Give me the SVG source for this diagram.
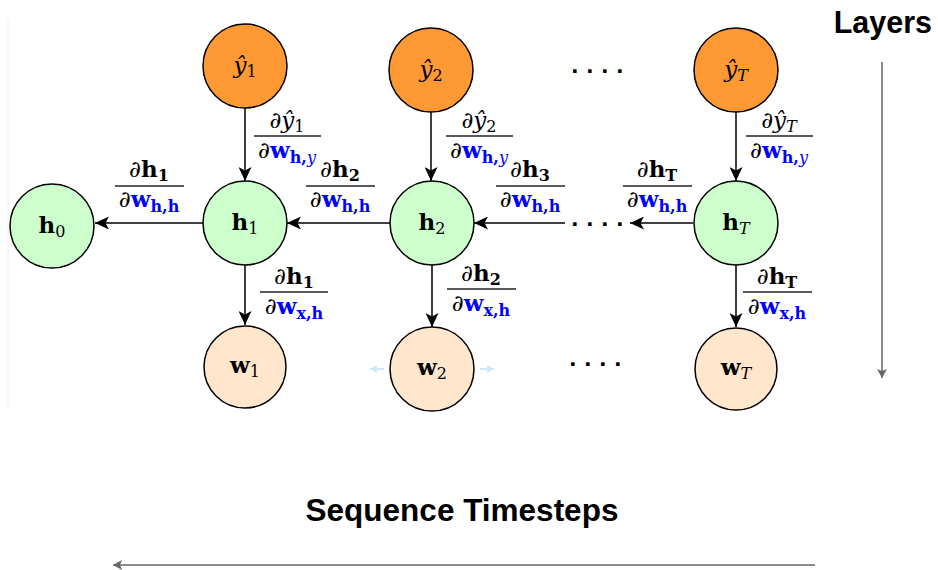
<svg xmlns="http://www.w3.org/2000/svg" width="938" height="570" viewBox="0 0 938 570">
<style>
.n{stroke:#000;stroke-width:1.5}
.o{fill:#FF9933}.g{fill:#CCFFCC}.p{fill:#FFE6CC}
.m{font-family:"DejaVu Serif","Liberation Serif",serif;font-size:23px;fill:#000}
.lab{text-anchor:middle}
.b{font-weight:bold}
.i{font-style:italic}
.s{font-size:16px}
.bl{fill:#0000FF;font-weight:bold}
.e{stroke:#000;stroke-width:1.5;fill:none;marker-end:url(#ah)}
.fl{stroke:#222;stroke-width:1.6}
.gr{stroke:#666;stroke-width:1.5;fill:none;marker-end:url(#gh)}
.t{font-family:"Liberation Sans",Arial,sans-serif;font-weight:bold;fill:#000}
.d{font-family:"DejaVu Sans",sans-serif;font-size:20px;font-weight:bold;fill:#000}
</style>
<defs>
<marker id="ah" markerWidth="15" markerHeight="13" refX="14" refY="6.5" orient="auto" markerUnits="userSpaceOnUse">
<path d="M0,0 L14,6.5 L0,13 L3.5,6.5 z" fill="#000"/>
</marker>
<marker id="gh" markerWidth="10" markerHeight="10" refX="9" refY="5" orient="auto" markerUnits="userSpaceOnUse">
<path d="M0,0 L9,5 L0,10 L2,5 z" fill="#666"/>
</marker>
<marker id="lb" markerWidth="8" markerHeight="8" refX="7" refY="4" orient="auto" markerUnits="userSpaceOnUse">
<path d="M0,0 L7,4 L0,8 z" fill="#cfe6f7"/>
</marker>
</defs>
<line x1="8" y1="20" x2="8" y2="410" stroke="#eeeeee" stroke-width="1"/>
<g id="connectors">
<line class="e" x1="245" y1="108" x2="245" y2="181"/>
<line class="e" x1="431" y1="112" x2="431" y2="181"/>
<line class="e" x1="736" y1="112" x2="736" y2="181"/>
<line class="e" x1="245" y1="265" x2="245" y2="325"/>
<line class="e" x1="432" y1="265" x2="432" y2="327"/>
<line class="e" x1="736" y1="265" x2="736" y2="327"/>
<line class="e" x1="203" y1="223" x2="95" y2="223"/>
<line class="e" x1="390" y1="223" x2="287" y2="223"/>
<line class="e" x1="565" y1="223" x2="474" y2="223"/>
<line class="e" x1="693" y1="223" x2="630" y2="223"/>
</g>
<g id="y1"><circle class="n o" cx="245" cy="66" r="42"/><text class="m lab" x="245" y="73"><tspan class="i">ŷ</tspan><tspan class="s" dy="4">1</tspan></text></g>
<g id="y2"><circle class="n o" cx="431" cy="70" r="42"/><text class="m lab" x="431" y="77"><tspan class="i">ŷ</tspan><tspan class="s" dy="4">2</tspan></text></g>
<g id="yT"><circle class="n o" cx="736" cy="70" r="42"/><text class="m lab" x="736" y="77"><tspan class="i">ŷ</tspan><tspan class="s i" dy="4">T</tspan></text></g>
<g id="h0"><circle class="n g" cx="52" cy="226" r="42"/><text class="m lab" x="52" y="233"><tspan class="b">h</tspan><tspan class="s" dy="4">0</tspan></text></g>
<g id="h1"><circle class="n g" cx="245" cy="223" r="42"/><text class="m lab" x="245" y="230"><tspan class="b">h</tspan><tspan class="s" dy="4">1</tspan></text></g>
<g id="h2"><circle class="n g" cx="432" cy="223" r="42"/><text class="m lab" x="432" y="230"><tspan class="b">h</tspan><tspan class="s" dy="4">2</tspan></text></g>
<g id="hT"><circle class="n g" cx="736" cy="223" r="42"/><text class="m lab" x="736" y="230"><tspan class="b">h</tspan><tspan class="s i" dy="4">T</tspan></text></g>
<g id="w1"><circle class="n p" cx="245" cy="367" r="41"/><text class="m lab" x="245" y="373"><tspan class="b">w</tspan><tspan class="s" dy="4">1</tspan></text></g>
<g id="w2"><circle class="n p" cx="432" cy="369" r="42"/><text class="m lab" x="432" y="375"><tspan class="b">w</tspan><tspan class="s" dy="4">2</tspan></text>
<line x1="384" y1="369" x2="370" y2="369" stroke="#cfe6f7" stroke-width="2" marker-end="url(#lb)"/>
<line x1="480" y1="369" x2="494" y2="369" stroke="#cfe6f7" stroke-width="2" marker-end="url(#lb)"/></g>
<g id="wT"><circle class="n p" cx="736" cy="369" r="41"/><text class="m lab" x="736" y="375"><tspan class="b">w</tspan><tspan class="s i" dy="4">T</tspan></text></g>
<g id="dots">
<text class="d" x="571 586 601 616" y="73">....</text>
<text class="d" x="571 586 601 616" y="226">....</text>
<text class="d" x="569 584 599 614" y="366">....</text>
</g>
<g id="labels">
<text class="m lab" x="287" y="128">∂<tspan class="i">ŷ</tspan><tspan class="s" dy="4">1</tspan></text>
<line class="fl" x1="254" y1="136" x2="321" y2="136"/>
<text class="m lab" x="287" y="158">∂<tspan class="bl">w</tspan><tspan class="s bl" dy="5">h,<tspan class="i" font-weight="normal">y</tspan></tspan></text>

<text class="m lab" x="479" y="128">∂<tspan class="i">ŷ</tspan><tspan class="s" dy="4">2</tspan></text>
<line class="fl" x1="446" y1="136" x2="513" y2="136"/>
<text class="m lab" x="479" y="158">∂<tspan class="bl">w</tspan><tspan class="s bl" dy="5">h,<tspan class="i" font-weight="normal">y</tspan></tspan></text>

<text class="m lab" x="779" y="128">∂<tspan class="i">ŷ</tspan><tspan class="s i" dy="4">T</tspan></text>
<line class="fl" x1="746" y1="136" x2="813" y2="136"/>
<text class="m lab" x="779" y="158">∂<tspan class="bl">w</tspan><tspan class="s bl" dy="5">h,<tspan class="i" font-weight="normal">y</tspan></tspan></text>

<text class="m lab" x="149" y="177">∂<tspan class="b">h</tspan><tspan class="s b" dy="4">1</tspan></text>
<line class="fl" x1="115" y1="186" x2="184" y2="186"/>
<text class="m lab" x="149" y="207">∂<tspan class="bl">w</tspan><tspan class="s bl" dy="5">h,h</tspan></text>

<text class="m lab" x="340" y="177">∂<tspan class="b">h</tspan><tspan class="s b" dy="4">2</tspan></text>
<line class="fl" x1="306" y1="186" x2="375" y2="186"/>
<text class="m lab" x="340" y="207">∂<tspan class="bl">w</tspan><tspan class="s bl" dy="5">h,h</tspan></text>

<text class="m lab" x="530" y="177">∂<tspan class="b">h</tspan><tspan class="s b" dy="4">3</tspan></text>
<line class="fl" x1="496" y1="186" x2="565" y2="186"/>
<text class="m lab" x="530" y="207">∂<tspan class="bl">w</tspan><tspan class="s bl" dy="5">h,h</tspan></text>

<text class="m lab" x="657" y="177">∂<tspan class="b">h</tspan><tspan class="s b" dy="4">T</tspan></text>
<line class="fl" x1="623" y1="186" x2="692" y2="186"/>
<text class="m lab" x="657" y="207">∂<tspan class="bl">w</tspan><tspan class="s bl" dy="5">h,h</tspan></text>

<text class="m lab" x="294" y="284">∂<tspan class="b">h</tspan><tspan class="s b" dy="4">1</tspan></text>
<line class="fl" x1="260" y1="292" x2="328" y2="292"/>
<text class="m lab" x="294" y="314">∂<tspan class="bl">w</tspan><tspan class="s bl" dy="5">x,h</tspan></text>

<text class="m lab" x="481" y="281">∂<tspan class="b">h</tspan><tspan class="s b" dy="4">2</tspan></text>
<line class="fl" x1="447" y1="289" x2="516" y2="289"/>
<text class="m lab" x="481" y="311">∂<tspan class="bl">w</tspan><tspan class="s bl" dy="5">x,h</tspan></text>

<text class="m lab" x="777" y="284">∂<tspan class="b">h</tspan><tspan class="s b" dy="4">T</tspan></text>
<line class="fl" x1="743" y1="292" x2="812" y2="292"/>
<text class="m lab" x="777" y="314">∂<tspan class="bl">w</tspan><tspan class="s bl" dy="5">x,h</tspan></text>
</g>
<g id="axes">
<text class="t" x="932" y="33" font-size="30.5" text-anchor="end">Layers</text>
<line class="gr" x1="882" y1="62" x2="882" y2="378"/>
<text class="t" x="462" y="521" font-size="31.5" text-anchor="middle">Sequence Timesteps</text>
<line class="gr" x1="815" y1="565" x2="113" y2="565"/>
</g>
</svg>
